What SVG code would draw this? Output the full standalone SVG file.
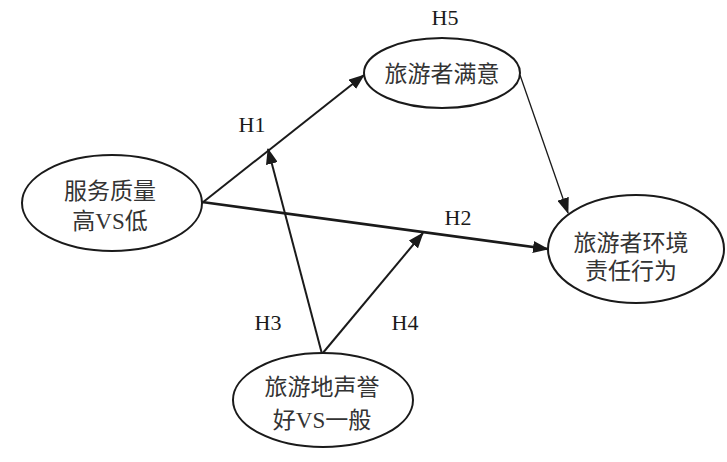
<svg xmlns="http://www.w3.org/2000/svg" width="727" height="462" viewBox="0 0 727 462">
<style>
.node{fill:#fff;stroke:#1a1a1a;stroke-width:2}
.t{font-family:"Liberation Serif","Noto Sans CJK SC",serif;font-size:23px;fill:#333;text-anchor:middle}
.h{font-family:"Liberation Serif",serif;font-size:22px;fill:#1a1a1a;text-anchor:middle}
.c{stroke:#1a1a1a;fill:none}
</style>
<defs>
<marker id="ah" markerWidth="16" markerHeight="12" refX="15" refY="6" orient="auto" markerUnits="userSpaceOnUse">
<path d="M0,0 L16,6 L0,12 Z" fill="#1a1a1a"/>
</marker>
</defs>
<rect width="727" height="462" fill="#fff"/>
<g id="connectors">
<line class="c" x1="202" y1="203" x2="364" y2="75" stroke-width="2" marker-end="url(#ah)"/>
<line class="c" x1="202" y1="202" x2="548" y2="249" stroke-width="2.6" marker-end="url(#ah)"/>
<line class="c" x1="520" y1="75" x2="568" y2="213" stroke-width="1.3" marker-end="url(#ah)"/>
<line class="c" x1="322" y1="354" x2="268" y2="149" stroke-width="2" marker-end="url(#ah)"/>
<line class="c" x1="322" y1="354" x2="423" y2="233" stroke-width="2" marker-end="url(#ah)"/>
</g>
<g id="labels">
<text class="h" x="252" y="132">H1</text>
<text class="h" x="458" y="225">H2</text>
<text class="h" x="268" y="330">H3</text>
<text class="h" x="405" y="330">H4</text>
<text class="h" x="445" y="25">H5</text>
</g>
<g id="n-service">
<ellipse class="node" cx="112" cy="203" rx="90" ry="48"/>
<text class="t" x="110" y="199">服务质量</text>
<text class="t" x="110" y="229">高VS低</text>
</g>
<g id="n-satisfaction">
<ellipse class="node" cx="442" cy="73" rx="78" ry="35"/>
<text class="t" x="442" y="82">旅游者满意</text>
</g>
<g id="n-behavior">
<ellipse class="node" cx="636" cy="249" rx="88" ry="54"/>
<text class="t" x="631" y="251">旅游者环境</text>
<text class="t" x="631" y="279">责任行为</text>
</g>
<g id="n-reputation">
<ellipse class="node" cx="323" cy="400" rx="90" ry="47"/>
<text class="t" x="322" y="395">旅游地声誉</text>
<text class="t" x="322" y="428">好VS一般</text>
</g>
</svg>
